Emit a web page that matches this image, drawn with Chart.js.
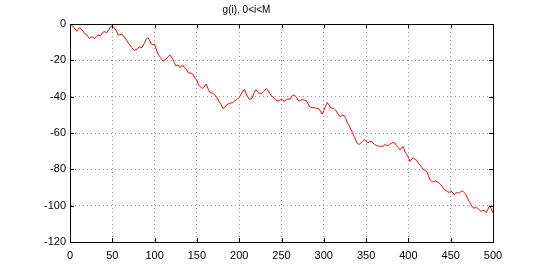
<!DOCTYPE html>
<html>
<head>
<meta charset="utf-8">
<script src="https://cdn.jsdelivr.net/npm/chart.js@4/dist/chart.umd.min.js"></script>
<style>
html,body{margin:0;padding:0;background:#fff;}
#wrap{width:545px;height:273px;}
</style>
</head>
<body>
<div id="wrap"><canvas id="c" width="545" height="273"></canvas></div>
<script>
const titleText = "g(i), 0<i<M";
const xTicks = [0,50,100,150,200,250,300,350,400,450,500];
const yTicks = [0,-20,-40,-60,-80,-100,-120];
const idx = [0,3,5,8,11,14,17,20,23,26,29,31,33,36,38,41,43,46,48,50,52,55,57,59,61,64,67,70,73,76,79,82,85,88,90,92,94,96,98,100,102,104,107,110,113,116,118,121,123,125,128,130,133,135,137,140,143,145,148,150,152,154,156,158,161,163,165,168,170,173,176,178,181,183,185,187,189,192,194,197,200,203,206,208,210,212,215,218,220,222,224,227,229,232,234,236,238,240,243,245,247,250,252,254,256,258,260,263,265,267,269,271,273,275,277,279,281,283,286,289,291,294,296,298,300,302,304,306,308,310,312,314,316,318,320,322,324,326,328,330,332,334,336,338,340,342,344,346,348,350,352,354,356,358,360,362,364,366,368,370,372,374,376,378,380,382,384,386,388,390,392,394,396,398,400,402,404,406,408,410,412,414,416,418,420,422,424,426,428,430,432,434,436,438,440,442,444,446,448,450,452,454,456,458,460,462,464,466,468,470,472,474,476,478,480,482,484,486,488,490,492,494,496,498,500];
const gVals = [0,-1,-2,-4,-2,-3,-5,-6,-8,-7,-8,-7,-6,-6.5,-5,-4,-5,-3,-1.5,-1,-2,-4,-6,-6,-5.5,-7,-9,-11,-13,-14.5,-14,-12.5,-13,-10.5,-8.5,-7.5,-9,-11,-11.5,-11,-14,-16.5,-18.5,-20.5,-19.5,-18,-17,-19,-21,-23,-22.5,-24,-22.5,-24,-24.5,-27,-27,-27.5,-30,-31,-33.5,-34.5,-35.5,-35,-33,-35.5,-37.5,-38,-38.5,-40,-42.5,-44,-46.5,-46,-44.5,-44,-43.5,-43.5,-42.5,-41.5,-40.5,-38,-36,-38,-40,-41.5,-41,-37.5,-36.2,-37.5,-38.6,-38,-37.2,-35.5,-36.5,-38,-39.5,-40.2,-41.5,-42.5,-42.3,-41.2,-42.3,-42.6,-41.5,-41.2,-41.5,-39.3,-39,-40,-41.5,-42.5,-41.8,-41.5,-42,-42,-43.5,-45.4,-46,-46,-46.5,-46.5,-48,-49.6,-47.5,-45.4,-43.2,-44.5,-46,-46.5,-46.5,-47.5,-49,-50.5,-50.8,-50.2,-50.4,-52,-54.5,-56,-58,-60,-62,-64,-66,-66.2,-65.4,-64.5,-63.4,-64.5,-65.4,-64.8,-64.4,-65.5,-66.3,-66.8,-67.2,-67.4,-67.2,-67.4,-66.3,-66.8,-67,-66,-65.6,-65.2,-65.5,-67,-68,-69.3,-68,-67.6,-70.5,-71.8,-73.5,-75.7,-74.2,-73.8,-74.5,-75.2,-76.8,-77.8,-79,-80.3,-80.5,-81.5,-84,-86,-86.8,-86.7,-86.3,-87,-87.4,-88.3,-89.5,-91,-91.5,-92.2,-92.8,-91.8,-92.5,-94,-93,-92.8,-93.1,-92.2,-91.8,-92.8,-94,-96,-97.7,-99.5,-101,-101.4,-101,-101.5,-102.5,-103.2,-102.5,-102.8,-103.8,-102,-100,-101.8,-104];

const points = idx.map((x,i)=>({x:x,y:gVals[i]}));

const boxPlugin = {
  id:'box',
  afterDatasetsDraw(chart){
    const {ctx, chartArea:a, scales} = chart;
    ctx.save();
    ctx.strokeStyle = '#000';
    ctx.lineWidth = 1;
    ctx.beginPath();
    const L = 4;
    xTicks.forEach(v=>{
      const px = Math.round(scales.x.getPixelForValue(v))+0.5;
      ctx.moveTo(px,a.bottom); ctx.lineTo(px,a.bottom-L);
      ctx.moveTo(px,a.top); ctx.lineTo(px,a.top+L);
    });
    yTicks.forEach(v=>{
      const py = Math.round(scales.y.getPixelForValue(v))+0.5;
      ctx.moveTo(a.left,py); ctx.lineTo(a.left+L,py);
      ctx.moveTo(a.right,py); ctx.lineTo(a.right-L,py);
    });
    ctx.stroke();
    ctx.strokeRect(Math.round(a.left)+0.5, Math.round(a.top)+0.5, Math.round(a.right-a.left), Math.round(a.bottom-a.top));
    ctx.restore();
  }
};

new Chart(document.getElementById('c'), {
  type:'line',
  data:{datasets:[{data:points, borderColor:'#ff0000', borderWidth:1, pointRadius:0, tension:0, fill:false}]},
  options:{
    responsive:false,
    animation:false,
    devicePixelRatio:1,
    layout:{padding:{left:0,right:52,top:0,bottom:0}},
    plugins:{
      legend:{display:false},
      tooltip:{enabled:false},
      title:{display:true, text:titleText, color:'#000', font:{family:'Liberation Sans', size:10, weight:'normal', lineHeight:1.2}, padding:{top:4,bottom:8}}
    },
    scales:{
      x:{type:'linear', min:0, max:500,
        afterBuildTicks(s){ s.ticks = xTicks.map(v=>({value:v})); },
        afterFit(s){ s.height = 31; },
        ticks:{color:'#000', font:{family:'Liberation Sans', size:11}, padding:7, maxRotation:0, autoSkip:false},
        grid:{color:'#999', drawTicks:false, lineWidth:1},
        border:{display:true, color:'#000', dash:[1,3]}
      },
      y:{type:'linear', min:-120, max:0,
        afterBuildTicks(s){ s.ticks = yTicks.map(v=>({value:v})); },
        afterFit(s){ s.width = 70; },
        ticks:{color:'#000', font:{family:'Liberation Sans', size:11}, padding:4, autoSkip:false},
        grid:{color:'#999', drawTicks:false, lineWidth:1},
        border:{display:true, color:'#000', dash:[1,3]}
      }
    }
  },
  plugins:[boxPlugin]
});
</script>
</body>
</html>
